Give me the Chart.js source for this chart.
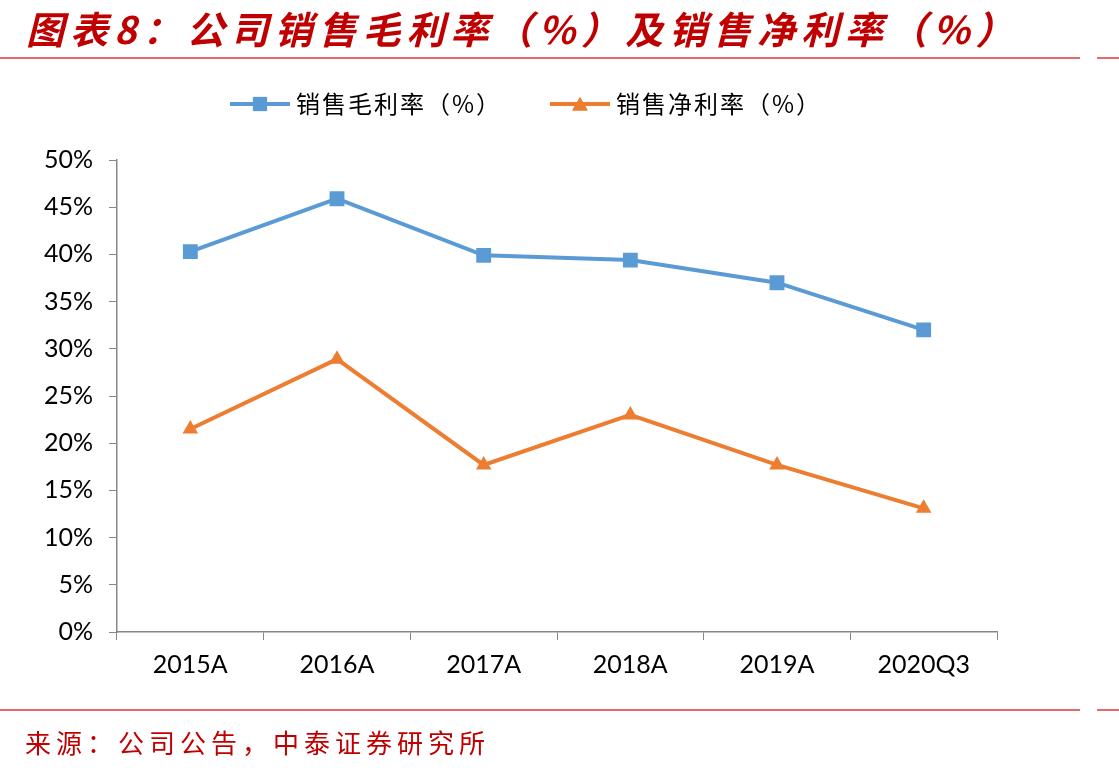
<!DOCTYPE html>
<html lang="zh">
<head>
<meta charset="UTF-8">
<title>销售毛利率及销售净利率</title>
<style>
  html, body { margin: 0; padding: 0; background: #fff; }
  #wrap { width: 1119px; height: 774px; position: relative; }
</style>
</head>
<body>
<div id="wrap"><canvas id="myChart" width="1119" height="774"></canvas></div>
<script src="https://cdn.jsdelivr.net/npm/chart.js@4.4.0/dist/chart.umd.min.js"></script>
<script>
const categories = ["2015A", "2016A", "2017A", "2018A", "2019A", "2020Q3"];
const grossMargin = [40.3, 45.9, 39.9, 39.4, 37.0, 32.0];
const netMargin = [21.5, 28.9, 17.7, 23.0, 17.7, 13.1];
const seriesNames = ["销售毛利率（%）", "销售净利率（%）"];
const titleText = "图表8：公司销售毛利率（%）及销售净利率（%）";
const sourceText = "来源：公司公告，中泰证券研究所";

const BLUE = "#5B9BD5";
const ORANGE = "#ED7D31";
const RED = "#C00000";

// title, red rules, legend and source line
const decor = {
  id: "decor",
  afterDraw(chart) {
    const c = chart.ctx;
    c.save();
    c.fillStyle = RED;
    c.textBaseline = "middle";
    c.font = "italic bold 38px 'Noto Sans CJK SC'";
    c.letterSpacing = "6px";
    c.fillText(titleText, 26, 30);
    c.letterSpacing = "5px";
    c.font = "26px 'Noto Sans CJK SC'";
    c.fillText(sourceText, 25, 743);

    c.strokeStyle = "#E0393E";
    c.lineWidth = 1.5;
    [58, 710].forEach(y => {
      c.beginPath();
      c.moveTo(0, y); c.lineTo(1080, y);
      c.moveTo(1097, y); c.lineTo(1119, y);
      c.stroke();
    });

    // legend
    const items = [
      { x: 230, color: BLUE, style: "rect" },
      { x: 550, color: ORANGE, style: "triangle" }
    ];
    c.font = "24px 'Noto Sans CJK SC'";
    c.letterSpacing = "2px";
    items.forEach((it, i) => {
      c.strokeStyle = it.color;
      c.lineWidth = 4;
      c.beginPath();
      c.moveTo(it.x, 104); c.lineTo(it.x + 60, 104);
      c.stroke();
      c.fillStyle = it.color;
      Chart.helpers.drawPoint(c, { pointStyle: it.style, radius: it.style === "rect" ? 10 : 9, rotation: 0, borderWidth: 0 }, it.x + 30, it.style === "rect" ? 104 : 106);
      c.fill();
      c.fillStyle = "#000";
      c.fillText(seriesNames[i], it.x + 66, 104);
    });
    c.restore();
  }
};

const ctx = document.getElementById("myChart").getContext("2d");
const myChart = new Chart(ctx, {
  type: "line",
  data: {
    labels: categories,
    datasets: [
      {
        label: seriesNames[0],
        data: grossMargin,
        borderColor: BLUE,
        backgroundColor: BLUE,
        borderWidth: 4,
        pointStyle: "rect",
        pointRadius: 10.5,
        pointBorderWidth: 0,
        tension: 0
      },
      {
        label: seriesNames[1],
        data: netMargin,
        borderColor: ORANGE,
        backgroundColor: ORANGE,
        borderWidth: 4,
        pointStyle: "triangle",
        pointRadius: 9,
        pointBorderWidth: 0,
        tension: 0
      }
    ]
  },
  options: {
    responsive: false,
    animation: false,
    layout: { padding: { left: 20, right: 122, top: 160, bottom: 0 } },
    plugins: { legend: { display: false }, tooltip: { enabled: false } },
    scales: {
      x: {
        offset: true,
        grid: { offset: true, drawOnChartArea: false, color: "#868686", tickLength: 8 },
        border: { color: "#868686", width: 1.5 },
        ticks: { color: "#000", font: { family: "Lato", size: 25 }, padding: 10, maxRotation: 0 },
        afterFit(scale) { scale.height = 142; }
      },
      y: {
        min: 0,
        max: 50,
        grid: { drawOnChartArea: false, color: "#868686", tickLength: 8 },
        border: { color: "#868686", width: 1.5 },
        ticks: {
          stepSize: 5,
          color: "#000",
          font: { family: "Lato", size: 25 },
          padding: 16,
          callback: v => v + "%"
        },
        afterFit(scale) { scale.width = 97; }
      }
    }
  },
  plugins: [decor]
});
</script>
</body>
</html>
